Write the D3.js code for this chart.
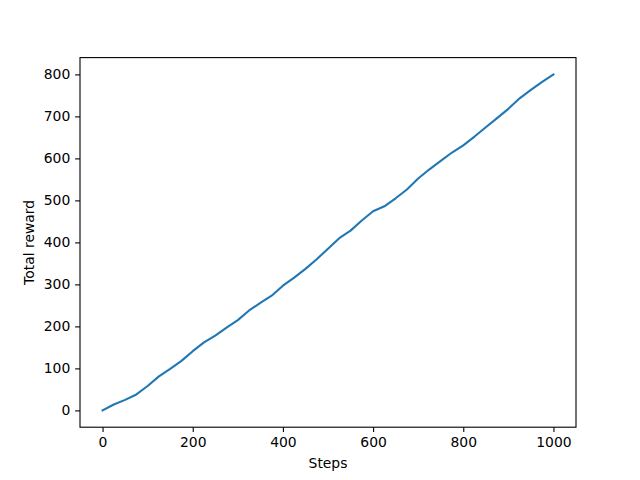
<!DOCTYPE html>
<html>
<head>
<meta charset="utf-8">
<script src="https://cdn.jsdelivr.net/npm/d3@7"></script>
<style>
  body { margin: 0; background: #fff; }
  svg text { font-family: "DejaVu Sans", sans-serif; font-size: 13.9px; fill: #000; }
</style>
</head>
<body>
<svg id="chart" width="640" height="480"></svg>
<script>
const steps = [0, 25, 50, 75, 100, 125, 150, 175, 200, 225, 250, 275, 300, 325, 350, 375, 400,
  425, 450, 475, 500, 525, 550, 575, 600, 625, 650, 675, 700, 725, 750, 775, 800, 825, 850,
  875, 900, 925, 950, 975, 1000];
const reward = [0, 14, 25, 38, 58, 81, 99, 118, 141, 162, 178, 197, 215, 238, 256, 273, 297,
  316, 337, 360, 385, 410, 428, 452, 474, 486, 505, 526, 552, 574, 594, 614, 631, 652, 674,
  696, 718, 743, 763, 782, 800];
const xTicks = [0, 200, 400, 600, 800, 1000];
const yTicks = [0, 100, 200, 300, 400, 500, 600, 700, 800];

const margin = { top: 57.6, right: 64, bottom: 52.8, left: 80 };
const width = 640 - margin.left - margin.right;
const height = 480 - margin.top - margin.bottom;

const svg = d3.select("#chart");
const g = svg.append("g").attr("transform", `translate(${margin.left},${margin.top})`);

// matplotlib-like 5% margins
const xr = d3.extent(steps), yr = d3.extent(reward);
const xPad = (xr[1] - xr[0]) * 0.05, yPad = (yr[1] - yr[0]) * 0.05;
const x = d3.scaleLinear().domain([xr[0] - xPad, xr[1] + xPad]).range([0, width]);
const y = d3.scaleLinear().domain([yr[0] - yPad, yr[1] + yPad]).range([height, 0]);

const line = d3.line()
    .x((d, i) => x(steps[i]))
    .y(d => y(d));

g.append("path")
    .datum(reward)
    .attr("fill", "none")
    .attr("stroke", "#1f77b4")
    .attr("stroke-width", 2.08)
    .attr("stroke-linejoin", "round")
    .attr("stroke-linecap", "square")
    .attr("d", line);

const xAxis = g.append("g")
    .attr("transform", `translate(0,${height})`)
    .call(d3.axisBottom(x).tickValues(xTicks).tickSize(4.86).tickPadding(4.86).tickFormat(d3.format("d")));
const yAxis = g.append("g")
    .call(d3.axisLeft(y).tickValues(yTicks).tickSize(4.86).tickPadding(4.86).tickFormat(d3.format("d")));

[xAxis, yAxis].forEach(a => {
  a.select(".domain").remove();
  a.selectAll(".tick line").attr("stroke", "#000").attr("stroke-width", 1.1);
  a.selectAll(".tick text").attr("font-size", null).attr("font-family", null);
});

g.append("rect")
    .attr("width", width)
    .attr("height", height)
    .attr("fill", "none")
    .attr("stroke", "#000")
    .attr("stroke-width", 1.1);

svg.append("text")
    .attr("x", margin.left + width / 2)
    .attr("y", 468)
    .attr("text-anchor", "middle")
    .text("Steps");

svg.append("text")
    .attr("transform", `translate(34,${margin.top + height / 2}) rotate(-90)`)
    .attr("text-anchor", "middle")
    .text("Total reward");
</script>
</body>
</html>
